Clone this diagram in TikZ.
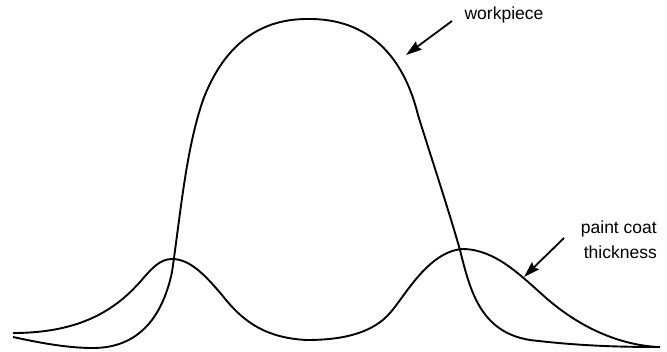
\documentclass[tikz,border=0pt]{standalone}
\usepackage{fontspec}
\setmainfont{Liberation Sans}
\usetikzlibrary{arrows.meta}

\begin{document}
\begin{tikzpicture}[x=1pt,y=-1pt,
  curve/.style={line width=1.9pt,line join=round},
  lbl/.style={font=\fontsize{17.5}{25}\selectfont,inner sep=0pt},
  arr/.style={line width=1.8pt,-{Stealth[length=16pt,width=10pt,inset=2pt]}}]

\useasboundingbox (0,0) rectangle (667,351);

% Workpiece
\draw[curve] (13,337) .. controls (45,344) and (70,348) .. (93,348)
  .. controls (140,348) and (163,315) .. (172,272)
  .. controls (181,210) and (186,150) .. (203,100)
  .. controls (222,50) and (255,19) .. (307,19)
  .. controls (370,18) and (404,58) .. (418,115)
  .. controls (432,160) and (448,208) .. (460,250)
  .. controls (470,290) and (480,332) .. (530,340)
  .. controls (580,346) and (620,347) .. (660,347);

% Paint coat thickness
\draw[curve] (13,333) .. controls (80,333) and (115,310) .. (140,282)
  .. controls (152,268) and (160,259) .. (172,259)
  .. controls (190,259) and (205,275) .. (222,295)
  .. controls (240,318) and (262,338) .. (307,340)
  .. controls (350,340) and (375,330) .. (390,313)
  .. controls (405,296) and (428,252) .. (462,249)
  .. controls (495,249) and (520,275) .. (545,297)
  .. controls (580,328) and (620,345) .. (658,347);

% Labels
\node[lbl] (wp) at (504,15) {workpiece};
\node[lbl,align=right,anchor=east] (pc) at (657,240) {paint coat\\thickness};

\coordinate (wptail) at (452,21);
\coordinate (wptip) at (406,55);
\coordinate (pctail) at (564,238);
\coordinate (pctip) at (524,277);

\draw[arr] (wptail) -- (wptip);
\draw[arr] (pctail) -- (pctip);

\end{tikzpicture}
\end{document}
